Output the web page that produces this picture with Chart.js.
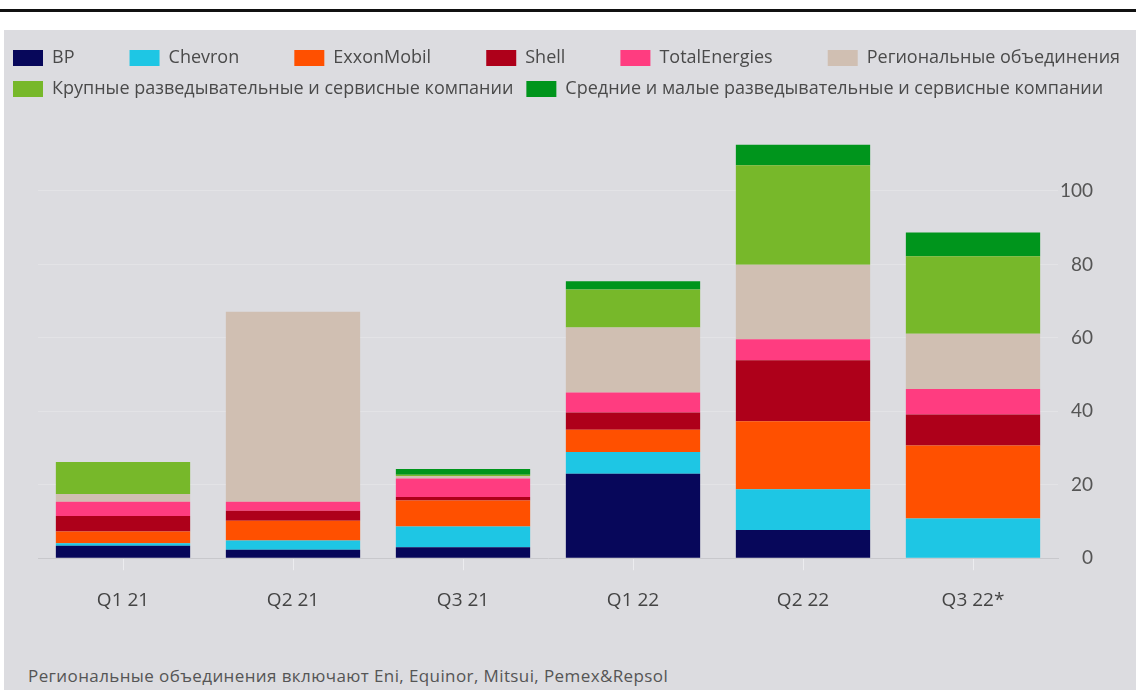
<!DOCTYPE html>
<html>
<head>
<meta charset="utf-8">
<script src="https://cdn.jsdelivr.net/npm/chart.js@4"></script>
<style>
  body { margin: 0; background: #fff; width: 1136px; height: 690px; overflow: hidden; position: relative; }
  #topline { position: absolute; left: 0; top: 9px; width: 1136px; height: 3px; background: #111; }
  #panel { position: absolute; left: 4px; top: 30px; width: 1132px; height: 660px; background: #dcdce0; }
  #wrap { position: absolute; left: 0; top: 30px; width: 1136px; height: 630px; }
  #note { position: absolute; left: 28px; top: 664px; font: 17px "Open Sans", sans-serif; letter-spacing: 0.4px; color: #555; }
</style>
</head>
<body>
<div id="topline"></div>
<div id="panel"></div>
<div id="wrap"><canvas id="chart"></canvas></div>
<div id="note">Региональные объединения включают Eni, Equinor, Mitsui, Pemex&amp;Repsol</div>
<script>
// quarters
let quarters = ['Q1 21', 'Q2 21', 'Q3 21', 'Q1 22', 'Q2 22', 'Q3 22*'];

// values per company group, bottom to top of the stack
let bp = [3.4, 2.3, 3.0, 23.0, 7.7, 0];
let chevron = [0.7, 2.5, 5.6, 5.9, 11.1, 10.8];
let exxon = [3.2, 5.4, 7.1, 6.1, 18.5, 19.9];
let shell = [4.2, 2.7, 1.0, 4.7, 16.6, 8.4];
let total = [3.9, 2.5, 5.0, 5.4, 5.7, 7.0];
let regional = [2.1, 51.7, 0.7, 17.7, 20.3, 15.0];
let large = [8.7, 0, 0.3, 10.4, 27.1, 21.1];
let small = [0, 0, 1.6, 2.2, 5.6, 6.5];

let yTicks = [0, 20, 40, 60, 80, 100];

let gap = '\u00a0'.repeat(9);

function series(label, data, color) {
    return { label: label, data: data, backgroundColor: color, borderWidth: 0, yAxisID: 'y' };
}

let ctx = document.getElementById('chart').getContext('2d');
let chart = new Chart(ctx, {
    type: 'bar',
    data: {
        labels: quarters,
        datasets: [
            series('BP', bp, '#07075a'),
            series('Chevron', chevron, '#1ec6e4'),
            series('ExxonMobil', exxon, '#ff5000'),
            series('Shell', shell, '#ae001a'),
            series('TotalEnergies', total, '#ff3c80'),
            series('Региональные объединения', regional, '#d0bfb2'),
            series('Крупные разведывательные и сервисные компании', large, '#77b82a'),
            series('Средние и малые разведывательные и сервисные компании', small, '#00951c')
        ]
    },
    options: {
        responsive: true,
        maintainAspectRatio: false,
        animation: false,
        layout: { padding: { top: 6, bottom: 29, left: 0, right: 0 } },
        datasets: { bar: { barPercentage: 0.79, categoryPercentage: 1 } },
        plugins: {
            tooltip: { enabled: false },
            legend: {
                position: 'top',
                align: 'start',
                labels: {
                    boxWidth: 30,
                    boxHeight: 16,
                    padding: 13,
                    color: '#4a4a4a',
                    font: { family: 'Open Sans', size: 18 },
                    generateLabels: function (c) {
                        let items = Chart.defaults.plugins.legend.labels.generateLabels(c);
                        items.forEach(function (it, i) {
                            // wider gaps between the short names, like the original
                            if (i < 5) it.text = it.text + gap;
                        });
                        return items;
                    }
                }
            }
        },
        scales: {
            x: {
                stacked: true,
                grid: { display: true, drawOnChartArea: false, offset: false, tickLength: 12, color: '#ececef' },
                border: { display: true, color: '#c8c8cc' },
                ticks: { color: '#444', padding: 19, font: { family: 'Open Sans', size: 19 } }
            },
            yl: {
                position: 'left',
                display: true,
                grid: { display: false },
                border: { display: false },
                ticks: { display: false },
                afterFit: function (s) { s.width = 38; }
            },
            yr: {
                position: 'right',
                display: true,
                weight: 10,
                grid: { display: false },
                border: { display: false },
                ticks: { display: false },
                afterFit: function (s) { s.width = 43; }
            },
            y: {
                stacked: true,
                position: 'right',
                weight: 0,
                min: 0,
                max: 122.6,
                grid: { color: 'rgba(255,255,255,0.2)', drawTicks: false },
                border: { display: false },
                afterBuildTicks: function (s) {
                    s.ticks = yTicks.map(function (v) { return { value: v }; });
                },
                ticks: {
                    crossAlign: 'far',
                    padding: 4,
                    color: '#555',
                    font: { family: 'Lato', size: 19 }
                },
                afterFit: function (s) { s.width = 35; }
            }
        }
    }
});
</script>
</body>
</html>
